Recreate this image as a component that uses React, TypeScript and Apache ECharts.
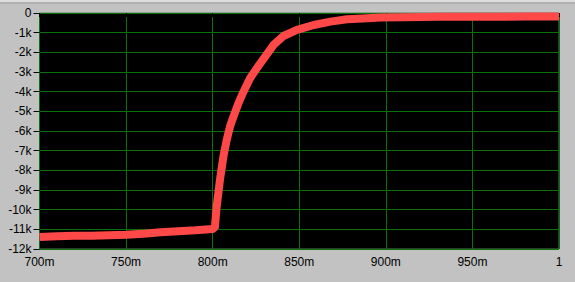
import React, { useEffect, useRef } from "react";
import * as echarts from "echarts";

const xValues = [
  0.7, 0.71, 0.72, 0.73, 0.74, 0.75, 0.76, 0.77, 0.78, 0.79, 0.8,
  0.8013, 0.8023, 0.8042, 0.8062, 0.8081, 0.81, 0.812, 0.8149, 0.8178,
  0.8216, 0.8255, 0.8303, 0.8351, 0.8409, 0.8487, 0.8583, 0.868, 0.8776,
  0.8892, 0.897, 0.91, 0.92, 0.93, 0.94, 0.95, 0.96, 0.97, 0.98, 0.99, 1.0,
];
const yValues = [
  -11390, -11350, -11330, -11320, -11300, -11280, -11220, -11150, -11100, -11050, -10980,
  -10880, -9850, -8490, -7300, -6460, -5780, -5270, -4590, -4000,
  -3320, -2810, -2220, -1630, -1170, -860, -610, -440, -320,
  -270, -230, -210, -200, -195, -190, -190, -185, -185, -180, -180, -180,
];
const yTickValues = [0, -1000, -2000, -3000, -4000, -5000, -6000, -7000, -8000, -9000, -10000, -11000, -12000];
const xTickLabels = ["700m", "750m", "800m", "850m", "900m", "950m", "1"];

export default function App() {
  const ref = useRef<HTMLDivElement>(null);
  useEffect(() => {
    document.body.style.margin = "0";
    const chart = echarts.init(ref.current!, undefined, { renderer: "svg" });
    const font = "Liberation Sans";
    chart.setOption({
      animation: false,
      backgroundColor: "#c2c2c2",
      graphic: [
        { type: "rect", shape: { x: 0, y: 0, width: 575, height: 2 }, style: { fill: "#dcdcdc" }, silent: true },
        { type: "rect", shape: { x: 0, y: 2, width: 575, height: 2 }, style: { fill: "#b0b0b0" }, silent: true },
      ],
      grid: {
        left: 39.5,
        right: 16,
        top: 13,
        bottom: 33,
        show: true,
        backgroundColor: "#000000",
        borderColor: "#5a7a5a",
        borderWidth: 1,
      },
      xAxis: {
        type: "value",
        min: 0.7,
        max: 1.0,
        interval: 0.05,
        axisLine: { show: false },
        axisTick: { show: true, length: 4, lineStyle: { color: "#000" } },
        splitLine: { show: true, lineStyle: { color: "#0a700a", width: 1 } },
        axisLabel: {
          color: "#000",
          fontFamily: font,
          fontSize: 12,
          margin: 7,
          formatter: (v: number) => {
            const idx = Math.round((v - 0.7) / 0.05);
            return xTickLabels[idx] ?? "";
          },
        },
      },
      yAxis: {
        type: "value",
        min: -12000,
        max: 0,
        interval: 1000,
        axisLine: { show: false },
        axisTick: { show: true, length: 6, lineStyle: { color: "#000" } },
        splitLine: { show: true, lineStyle: { color: "#0a700a", width: 1 } },
        axisLabel: {
          color: "#000",
          fontFamily: font,
          fontSize: 12,
          margin: 8,
          formatter: (v: number) => {
            const t = yTickValues.find((a) => Math.abs(a - v) < 1);
            if (t === undefined) return "";
            return t === 0 ? "0" : `${t / 1000}k`;
          },
        },
      },
      series: [
        {
          type: "line",
          data: xValues.map((x, i) => [x, yValues[i]]),
          lineStyle: { color: "#ff4848", width: 8, join: "round", cap: "butt" },
          symbol: "none",
          clip: true,
        },
      ],
    });
    return () => chart.dispose();
  }, []);
  return <div ref={ref} style={{ width: 575, height: 282 }} />;
}
